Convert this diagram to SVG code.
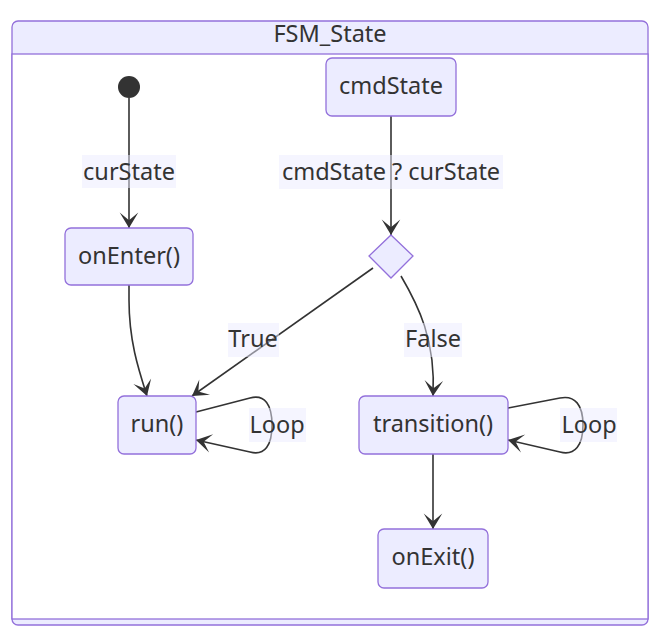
<svg xmlns="http://www.w3.org/2000/svg" width="662" height="642" viewBox="0 0 662 642">
<style>
.node rect{fill:#ECECFF;stroke:#9370DB;stroke-width:1.3}
.node polygon{fill:#ECECFF;stroke:#9370DB;stroke-width:1.3}
text{font-family:"Noto Sans","Open Sans",sans-serif;font-size:23.5px;fill:#333;text-anchor:middle;dominant-baseline:central}
.edge{fill:none;stroke:#333;stroke-width:1.6}
.lbl{fill:#ECECFF;fill-opacity:0.5}
</style>
<defs>
<marker id="barb" viewBox="0 0 20 14" refX="19" refY="7" markerWidth="31" markerHeight="21.7" markerUnits="userSpaceOnUse" orient="auto">
<path d="M19,7 L9,13 L14,7 L9,1 Z" fill="#333"/>
</marker>
</defs>
<g id="FSM_State">
<rect x="12" y="21" width="636" height="604" rx="6" fill="#ECECFF" stroke="#9370DB" stroke-width="1.3"/>
<rect x="12" y="54" width="636" height="565" fill="#ffffff" stroke="#9370DB" stroke-width="1.3"/>
<text x="330" y="33">FSM_State</text>
</g>
<g id="edges">
<path class="edge" d="M129,98 L129,228" marker-end="url(#barb)"/>
<path class="edge" d="M391,116 L391,235" marker-end="url(#barb)"/>
<path class="edge" d="M129,285 L129,300 C129,340 138,368 147,396" marker-end="url(#barb)"/>
<path class="edge" d="M373,268 L192,396" marker-end="url(#barb)"/>
<path class="edge" d="M401,276 C418,305 436,340 433,396" marker-end="url(#barb)"/>
<path class="edge" d="M196,412 L250,398 C265,394 272,405 272,425 C272,445 265,456 250,452 L196,440" marker-end="url(#barb)"/>
<path class="edge" d="M508,408 L560,398 C575,395 583,405 583,425 C583,445 575,456 560,452 L508,440" marker-end="url(#barb)"/>
<path class="edge" d="M433,454 L433,529" marker-end="url(#barb)"/>
<rect class="lbl" x="82" y="155" width="94" height="33"/>
<text x="129" y="171">curState</text>
<rect class="lbl" x="279" y="155" width="224" height="34"/>
<text x="391" y="171">cmdState ? curState</text>
<rect class="lbl" x="228" y="323" width="51" height="34"/>
<text x="253" y="338">True</text>
<rect class="lbl" x="404" y="323" width="58" height="34"/>
<text x="433" y="338">False</text>
<rect class="lbl" x="249" y="408" width="57" height="34"/>
<text x="277" y="424">Loop</text>
<rect class="lbl" x="560" y="408" width="57" height="34"/>
<text x="589" y="424">Loop</text>
</g>
<g id="start">
<circle cx="129" cy="87" r="11" fill="#333"/>
</g>
<g id="onEnter" class="node">
<rect x="65" y="228" width="128" height="57" rx="6"/>
<text x="129" y="255">onEnter()</text>
</g>
<g id="cmdState" class="node">
<rect x="326" y="58" width="130" height="58" rx="6"/>
<text x="391" y="85">cmdState</text>
</g>
<g id="choice" class="node">
<polygon points="391,235 413,256 391,278 369,256"/>
</g>
<g id="run" class="node">
<rect x="118" y="396" width="78" height="58" rx="6"/>
<text x="157" y="423">run()</text>
</g>
<g id="transition" class="node">
<rect x="359" y="396" width="149" height="58" rx="6"/>
<text x="433" y="423">transition()</text>
</g>
<g id="onExit" class="node">
<rect x="378" y="529" width="110" height="59" rx="6"/>
<text x="433" y="556">onExit()</text>
</g>
</svg>
